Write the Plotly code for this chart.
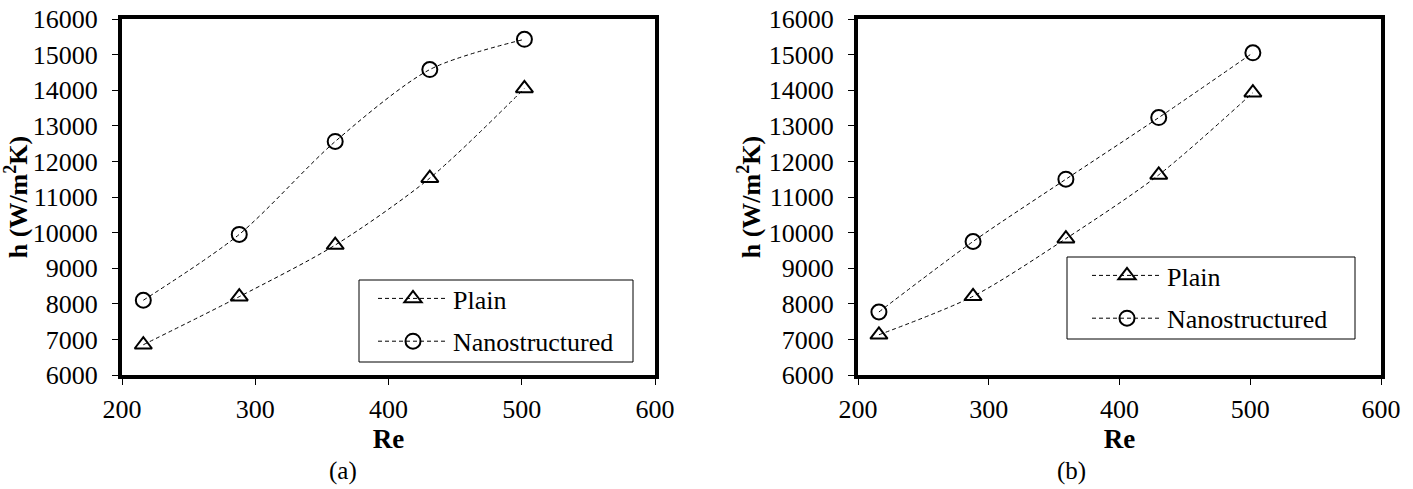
import plotly.graph_objects as go

# ---- data ----
re_a = [216, 288, 360, 431, 502]
plain_a = [6850, 8200, 9650, 11530, 14050]
nano_a = [8100, 9950, 12560, 14580, 15430]

re_b = [216, 288, 359, 430, 502]
plain_b = [7130, 8210, 9830, 11620, 13930]
nano_b = [7770, 9750, 11500, 13230, 15050]

series_names = ["Plain", "Nanostructured"]
x_ticks = [200, 300, 400, 500, 600]
y_ticks = [6000, 7000, 8000, 9000, 10000, 11000, 12000, 13000, 14000, 15000, 16000]
captions = ["(a)", "(b)"]

W, H = 1413, 489
FONT = "Liberation Serif"

fig = go.Figure()

panels = [
    (re_a, plain_a, nano_a, "x", "y", "legend"),
    (re_b, plain_b, nano_b, "x2", "y2", "legend2"),
]
for re_vals, p_vals, n_vals, xa, ya, lg in panels:
    fig.add_trace(go.Scatter(
        x=re_vals, y=p_vals, name=series_names[0], mode="lines+markers",
        line=dict(color="black", width=1, dash="4px,3px", shape="spline", smoothing=0.8),
        marker=dict(symbol="triangle-up-open", size=15, color="black", line=dict(width=2, color="black")),
        xaxis=xa, yaxis=ya, legend=lg, legendgroup="p",
    ))
    fig.add_trace(go.Scatter(
        x=re_vals, y=n_vals, name=series_names[1], mode="lines+markers",
        line=dict(color="black", width=1, dash="4px,3px", shape="spline", smoothing=0.8),
        marker=dict(symbol="circle-open", size=15, color="black", line=dict(width=2, color="black")),
        xaxis=xa, yaxis=ya, legend=lg, legendgroup="n",
    ))

def px_x(p):
    return p / W

def px_y(p):
    return 1 - p / H

y_dom = [px_y(375), px_y(19)]
ax_common = dict(
    showline=True, linewidth=4, linecolor="black", mirror=True,
    ticks="outside", ticklen=6, tickwidth=1, tickcolor="black",
    showgrid=False, zeroline=False, automargin=False, tickformat="d",
    tickfont=dict(family=FONT, size=26, color="black"),
)
xaxis_common = dict(ax_common, range=[200, 600], tickvals=x_ticks, ticklabelstandoff=2,
                    title=dict(text="<b>Re</b>", font=dict(family=FONT, size=27, color="black"), standoff=4))
yaxis_common = dict(ax_common, range=[6000, 16000], tickvals=y_ticks, ticklabelstandoff=9,
                    title=dict(text="<b>h (W/m<sup>2</sup>K)</b>", font=dict(family=FONT, size=26, color="black"), standoff=2))

legend_style = dict(xanchor="left", yanchor="top", bgcolor="rgba(0,0,0,0)", borderwidth=0,
                    font=dict(family=FONT, size=26, color="black"), itemwidth=70,
                    tracegroupgap=6)

fig.update_layout(
    width=W, height=H,
    margin=dict(l=0, r=0, t=0, b=0),
    paper_bgcolor="white", plot_bgcolor="white",
    font=dict(family=FONT, color="black"),
    xaxis=dict(xaxis_common, domain=[px_x(122), px_x(655)], anchor="y"),
    yaxis=dict(yaxis_common, domain=y_dom, anchor="x"),
    xaxis2=dict(xaxis_common, domain=[px_x(858), px_x(1381)], anchor="y2"),
    yaxis2=dict(yaxis_common, domain=y_dom, anchor="x2"),
    legend=dict(legend_style, x=px_x(373), y=px_y(275)),
    legend2=dict(legend_style, x=px_x(1087), y=px_y(252)),
    showlegend=True,
    shapes=[
        dict(type="rect", xref="paper", yref="paper", x0=px_x(359), x1=px_x(633),
             y0=px_y(362), y1=px_y(280), line=dict(color="black", width=1), fillcolor="white", layer="below"),
        dict(type="rect", xref="paper", yref="paper", x0=px_x(1067), x1=px_x(1355),
             y0=px_y(339), y1=px_y(257), line=dict(color="black", width=1), fillcolor="white", layer="below"),
    ],
    annotations=[
        dict(text=captions[0], x=px_x(343), y=px_y(471), xref="paper", yref="paper",
             xanchor="center", yanchor="middle",
             showarrow=False, font=dict(family=FONT, size=25, color="black")),
        dict(text=captions[1], x=px_x(1071), y=px_y(471), xref="paper", yref="paper",
             xanchor="center", yanchor="middle",
             showarrow=False, font=dict(family=FONT, size=25, color="black")),
    ],
)

fig.write_html("out.html", config={"displayModeBar": False},
               post_script="document.body.style.margin='0';")
